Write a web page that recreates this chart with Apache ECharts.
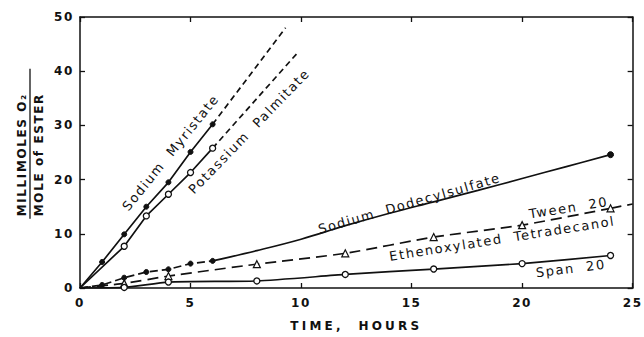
<!DOCTYPE html>
<html>
<head>
<meta charset="utf-8">
<script src="https://cdn.jsdelivr.net/npm/echarts@6/dist/echarts.min.js"></script>
<style>
  html, body { margin: 0; padding: 0; background: #fff; }
  #chart { width: 644px; height: 337px; }
  /* hand-lettered look: widely spaced characters */
  #chart svg text { letter-spacing: 1.6px; }
</style>
</head>
<body>
<div id="chart"></div>
<script>
// Oxygen uptake (millimoles O2 per mole of ester) against time in hours.
const xTickLabels = ['0', '5', '10', '15', '20', '25'];
const yTickLabels = ['0', '10', '20', '30', '40', '50'];

const myristate = [[0, 0], [1, 4.8], [2, 9.9], [3, 15.0], [4, 19.5], [5, 25.1], [6, 30.2]];
const myristateExtrap = [[6, 30.2], [9.3, 48.0]];

const palmitate = [[0, 0], [2, 7.7], [3, 13.3], [4, 17.3], [5, 21.3], [6, 25.8]];
const palmitateExtrap = [[6, 25.8], [9.8, 43.2]];

const dodecylEarly = [[0, 0], [1, 0.55], [2, 1.9], [3, 2.95], [4, 3.45], [5, 4.5], [6, 5.0]];
const dodecylCurve = [[6, 5.0], [8, 6.9], [10, 9.0], [12, 11.5], [14, 13.8], [16, 15.9], [18, 18.0], [20, 20.2], [22, 22.4], [24, 24.6]];
const dodecylLast = [[24, 24.6]];

const tween = [[0, 0], [2, 0.85], [4, 2.2], [8, 4.4], [12, 6.4], [16, 9.4], [20, 11.6], [24, 14.7]];
const tweenTail = [[24, 14.7], [25, 15.5]];

const span = [[0, 0], [2, 0.1], [4, 1.1], [8, 1.3], [12, 2.5], [16, 3.5], [20, 4.5], [24, 6.0]];

// Curve captions: text, anchor (hours, O2), angle in degrees
const captions = [
  ['Sodium  Myristate', 4.1, 25.0, 51],
  ['Potassium  Palmitate', 7.65, 28.9, 46],
  ['Sodium  Dodecylsulfate', 14.9, 15.6, 16],
  ['Tween  20', 22.1, 14.8, 9],
  ['Ethenoxylated  Tetradecanol', 19.1, 9.1, 9],
  ['Span  20', 22.2, 3.6, 7]
];

const X_TITLE = 'TIME,  HOURS';
const INK = '#111';
const FONT = 'DejaVu Sans';

function pts(arr) {
  return arr.map(p => p[0] === 0 ? { value: p, symbol: 'none' } : p);
}

function lineSeries(data, opts) {
  return Object.assign({
    type: 'line',
    data: data,
    xAxisIndex: 0,
    yAxisIndex: 0,
    symbol: 'none',
    lineStyle: { color: INK, width: 1.7, type: 'solid' },
    itemStyle: { color: INK, borderColor: INK, borderWidth: 1.3 },
    animation: false,
    z: 3
  }, opts);
}

const filled = { symbol: 'circle', symbolSize: 5, itemStyle: { color: INK, borderColor: INK } };
const openCircle = { symbol: 'circle', symbolSize: 6, itemStyle: { color: '#fff', borderColor: INK, borderWidth: 1.3 } };
const openTri = { symbol: 'triangle', symbolSize: 7, itemStyle: { color: '#fff', borderColor: INK, borderWidth: 1.2 } };
const dashed = type => ({ lineStyle: { color: INK, width: 1.7, type: type } });

const baseAxis = {
  axisLine: { show: true, onZero: false, lineStyle: { color: INK, width: 1.5 } },
  axisTick: { show: true, inside: true, length: 5, lineStyle: { color: INK, width: 1.3 } },
  splitLine: { show: false }
};
const tickFont = { color: INK, fontFamily: FONT, fontSize: 12, fontWeight: 'bold' };

const chart = echarts.init(document.getElementById('chart'), null, { renderer: 'svg' });

chart.setOption({
  backgroundColor: '#fff',
  animation: false,
  grid: { left: 80, right: 10, top: 17, bottom: 44 },
  xAxis: [
    Object.assign({}, baseAxis, {
      type: 'value', min: 0, max: 25, interval: 5, position: 'bottom',
      axisLabel: Object.assign({ margin: 9, formatter: v => xTickLabels[Math.round(v / 5)] }, tickFont),
      name: X_TITLE, nameLocation: 'middle', nameGap: 32,
      nameTextStyle: { color: INK, fontFamily: FONT, fontSize: 12, fontWeight: 'bold' }
    }),
    Object.assign({}, baseAxis, {
      type: 'value', min: 0, max: 25, interval: 5, position: 'top',
      axisLabel: { show: false }
    })
  ],
  yAxis: [
    Object.assign({}, baseAxis, {
      type: 'value', min: 0, max: 50, interval: 10, position: 'left',
      axisLabel: Object.assign({ margin: 6, formatter: v => yTickLabels[Math.round(v / 10)] }, tickFont)
    }),
    Object.assign({}, baseAxis, {
      type: 'value', min: 0, max: 50, interval: 10, position: 'right',
      axisLabel: { show: false }
    })
  ],
  series: [
    lineSeries(pts(myristate), filled),
    lineSeries(myristateExtrap, dashed([6, 4])),
    lineSeries(pts(palmitate), openCircle),
    lineSeries(palmitateExtrap, dashed([6, 4])),
    lineSeries(pts(dodecylEarly), Object.assign({}, filled, dashed([8, 4]))),
    lineSeries(dodecylCurve, { smooth: 0.4 }),
    lineSeries(dodecylLast, Object.assign({}, filled, { symbolSize: 6 })),
    lineSeries(pts(tween), Object.assign({}, openTri, { smooth: 0.2 }, dashed([11, 6]))),
    lineSeries(tweenTail, dashed([11, 6])),
    lineSeries(pts(span), Object.assign({}, openCircle, { smooth: 0.2 }))
  ]
});

// Captions along the curves and the two-line y axis title
const graphics = captions.map(c => {
  const p = chart.convertToPixel({ gridIndex: 0 }, [c[1], c[2]]);
  return {
    type: 'text',
    x: p[0], y: p[1],
    rotation: c[3] * Math.PI / 180,
    style: { text: c[0], fill: INK, font: '13px "' + FONT + '"', align: 'center', verticalAlign: 'middle' },
    z: 10
  };
});

const titleMid = chart.convertToPixel({ gridIndex: 0 }, [0, 24.6]);
graphics.push({
  type: 'group',
  x: 30, y: titleMid[1],
  rotation: Math.PI / 2,
  children: [
    {
      type: 'text', x: 0, y: -8,
      style: { text: 'MILLIMOLES O\u2082', font: 'bold 12px "' + FONT + '"', align: 'center', verticalAlign: 'middle', fill: INK }
    },
    { type: 'line', shape: { x1: -64, y1: 0, x2: 86, y2: 0 }, style: { stroke: INK, lineWidth: 1.3 } },
    {
      type: 'text', x: 0, y: 9,
      style: { text: 'MOLE of ESTER', font: 'bold 12px "' + FONT + '"', align: 'center', verticalAlign: 'middle', fill: INK }
    }
  ]
});

chart.setOption({ graphic: graphics });

// The time axis title is lettered with extra-wide spacing
function spaceTitle() {
  document.querySelectorAll('#chart svg text').forEach(t => {
    if (t.textContent === X_TITLE) t.style.letterSpacing = '3.2px';
  });
}
chart.on('finished', spaceTitle);
spaceTitle();
</script>
</body>
</html>
